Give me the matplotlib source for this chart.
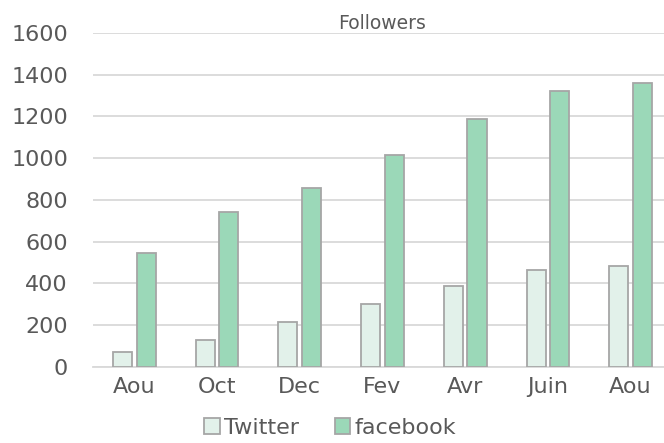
import numpy as np
import matplotlib.pyplot as plt

months = ["Aou", "Oct", "Dec", "Fev", "Avr", "Juin", "Aou"]
twitter = [72, 129, 216, 302, 390, 463, 485]
facebook = [548, 744, 857, 1016, 1190, 1324, 1362]

text_color = "#595959"
grid_color = "#d9d9d9"

plt.rcParams["font.family"] = ["DejaVu Sans"]

fig = plt.figure(figsize=(6.64, 4.43), dpi=100)
ax = fig.add_axes([0.140, 0.1716, 0.872, 0.7539])

x = np.arange(len(months))
width = 0.23
offset = 0.143

ax.bar(x - offset, twitter, width, color="#e2f1ea", edgecolor="#a6a6a6",
       linewidth=1.3, label="Twitter", zorder=3)
ax.bar(x + offset, facebook, width, color="#9bd8b8", edgecolor="#a6a6a6",
       linewidth=1.3, label="facebook", zorder=3)

ax.set_xlim(-0.5, len(months) - 0.5)
ax.set_ylim(0, 1600)
ax.set_yticks(range(0, 1601, 200))
ax.set_xticks(x)
ax.set_xticklabels(months)

ax.grid(axis="y", color=grid_color, linewidth=1.3, zorder=0)
for side in ["top", "right", "left"]:
    ax.spines[side].set_visible(False)
ax.spines["bottom"].set_color(grid_color)
ax.spines["bottom"].set_linewidth(1.3)
ax.tick_params(axis="both", length=0, labelsize=16, colors=text_color)
ax.tick_params(axis="y", pad=18)
ax.tick_params(axis="x", pad=7)

ax.set_title("Followers", fontsize=13.5, color=text_color, pad=0)

ax.legend(loc="upper center", bbox_to_anchor=(0.41, -0.125), ncol=2,
          frameon=False, fontsize=16, labelcolor=text_color,
          handlelength=0.7, handleheight=0.7, handletextpad=0.2,
          columnspacing=1.6, borderaxespad=0)

fig.savefig("out.png", dpi=100)
